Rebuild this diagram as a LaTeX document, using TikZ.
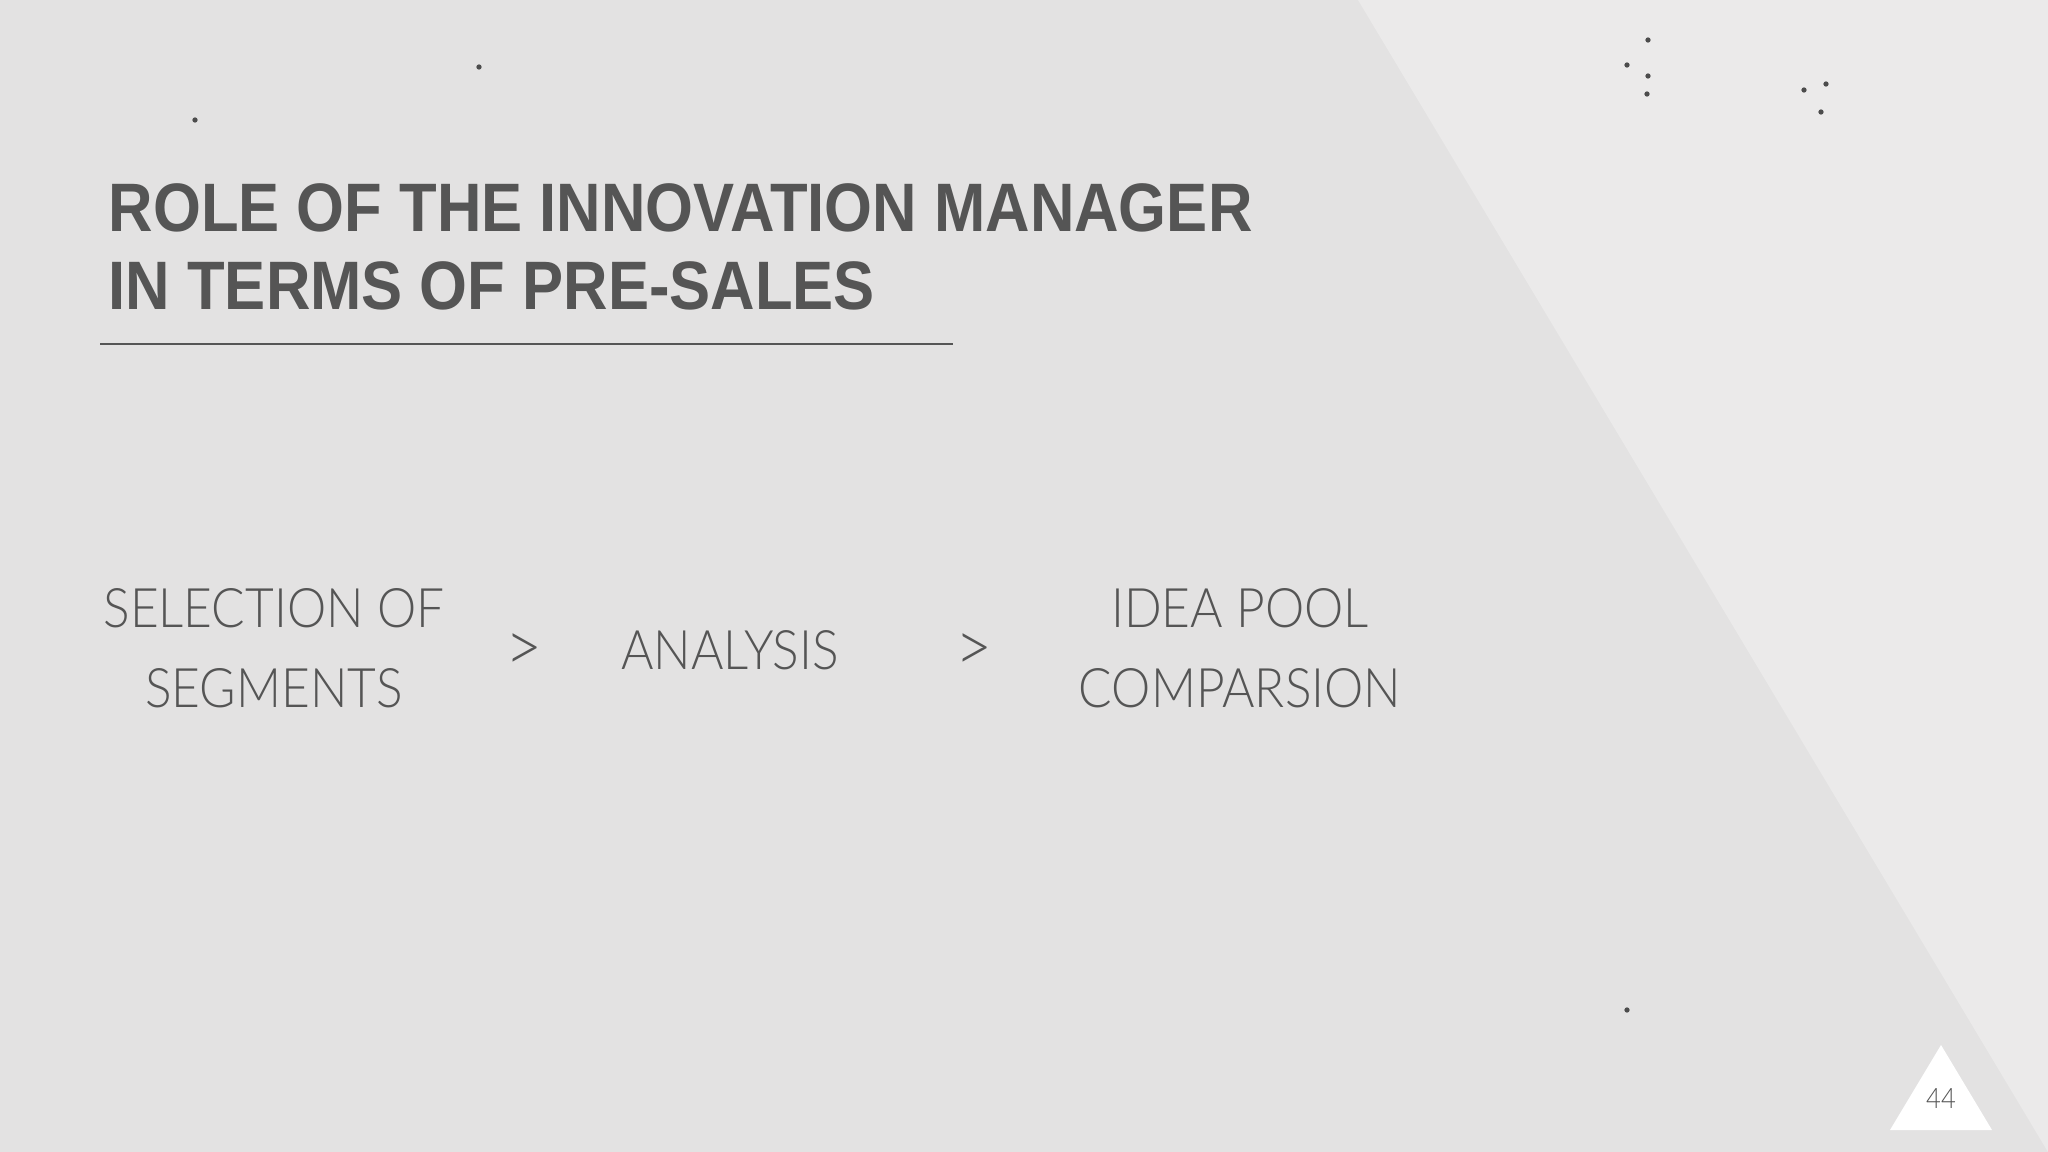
\documentclass[tikz,border=0pt]{standalone}
\usepackage{fontspec}
\setmainfont{Liberation Sans}
\newfontfamily\titlefont{Liberation Sans}[FakeStretch=0.898]
\newfontfamily\flowfont{Lato Light}[FakeStretch=0.91]

\definecolor{bgleft}{RGB}{227,226,226}
\definecolor{bgright}{RGB}{235,234,234}
\definecolor{inkgray}{RGB}{85,85,85}

\begin{document}
\begin{tikzpicture}[x=0.01cm, y=-0.01cm,
    titletext/.style={anchor=base west, inner sep=0pt, text=inkgray,
        font=\titlefont\bfseries\fontsize{19.5}{22}\selectfont},
    steptext/.style={align=center, inner sep=0pt, text=inkgray,
        font=\flowfont\fontsize{15.5}{22.8}\selectfont},
    sepmark/.style={inner sep=0pt, text=inkgray,
        font=\flowfont\fontsize{20}{22.8}\selectfont},
    speck/.style={fill=black!70}]

        % Background and lighter wedge
        \fill[bgleft] (0,0) rectangle (2048,1152);
        \fill[bgright] (1358,0) -- (2048,0) -- (2048,1152) -- cycle;
        \useasboundingbox (0,0) rectangle (2048,1152);

        % Dust specks
        \foreach \px/\py in {479/67, 195/120, 1648/40, 1627/65, 1648/76, 1647/94, 1804/90, 1826/84, 1821/112, 1627/1010}
            \fill[speck] (\px,\py) circle[radius=0.75pt];

        % Title
        \node[titletext] (titleA) at (108,232) {ROLE OF THE INNOVATION MANAGER};
        \node[titletext] (titleB) at (108,310) {IN TERMS OF PRE-SALES};
        \draw[inkgray, line width=0.45pt] (100,344) -- (953,344);

        % Steps
        \node[steptext] (select) at (274,648) {SELECTION OF\\SEGMENTS};
        \node[sepmark] (gtA) at (524,653) {>};
        \node[steptext] (analysis) at (730,650) {ANALYSIS};
        \node[sepmark] (gtB) at (974,653) {>};
        \node[steptext] (pool) at (1240,648) {IDEA POOL\\COMPARSION};

        % Page number
        \fill[white] (1941,1045) -- (1992,1130) -- (1890,1130) -- cycle;
        \node[inner sep=0pt, text=inkgray, font=\flowfont\fontsize{8}{9}\selectfont] (pagenum) at (1941,1099) {44};

    \end{tikzpicture}
\end{document}
